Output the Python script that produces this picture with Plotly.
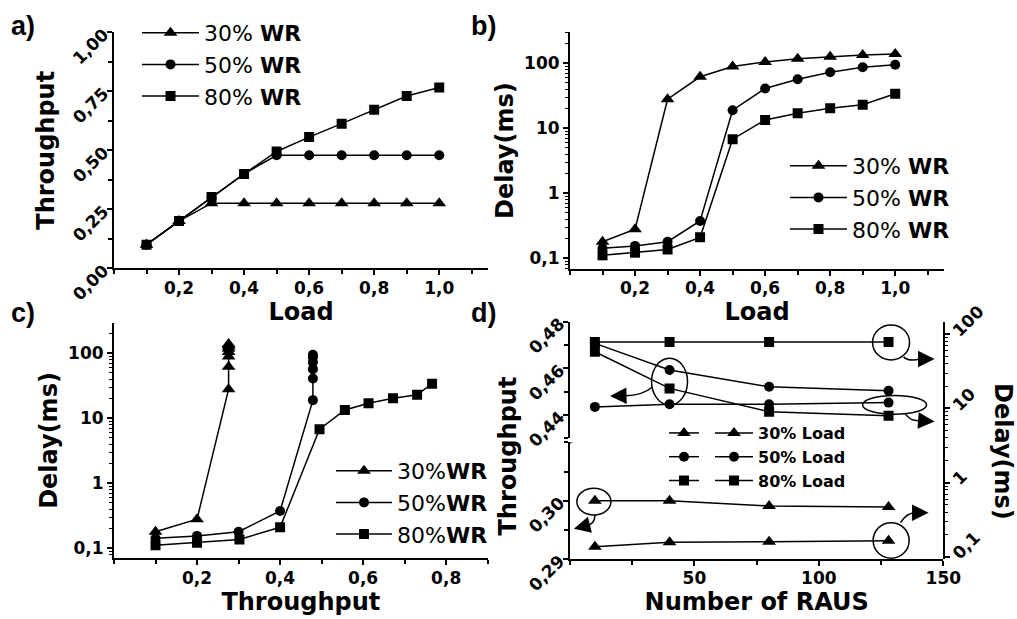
import math
import plotly.graph_objects as go

# ---------------- data ----------------
load = [0.1, 0.2, 0.3, 0.4, 0.5, 0.6, 0.7, 0.8, 0.9, 1.0]
thr_30 = [0.100, 0.200, 0.276, 0.276, 0.276, 0.276, 0.276, 0.276, 0.276, 0.276]
thr_50 = [0.100, 0.200, 0.300, 0.400, 0.479, 0.479, 0.479, 0.479, 0.479, 0.479]
thr_80 = [0.100, 0.200, 0.302, 0.400, 0.495, 0.556, 0.613, 0.672, 0.730, 0.766]
dly_30 = [0.18, 0.28, 28, 62, 89, 105, 117, 126, 134, 139]
dly_50 = [0.143, 0.155, 0.18, 0.375, 19, 41, 57, 73, 87, 95]
dly_80 = [0.111, 0.122, 0.137, 0.21, 6.8, 13.4, 17, 20.3, 23, 34]

raus = [10, 40, 80, 128]
thr_d_30 = [0.3000, 0.3000, 0.2991, 0.2989]
thr_d_50 = [0.4707, 0.4593, 0.4521, 0.4504]
thr_d_80 = [0.4671, 0.4514, 0.4414, 0.4397]
dly_d_30 = [0.137, 0.157, 0.160, 0.165]
dly_d_50 = [10.5, 11.4, 11.4, 12.0]
dly_d_80 = [79, 79, 79, 79]

wr_names = ["30%", "50%", "80%"]
load_names = ["30% Load", "50% Load", "80% Load"]
log_tickvals = [0.1, 1, 10, 100]
log_ticktext = ["0,1", "1", "10", "100"]

# ---------------- helpers ----------------
W, H = 1017, 619
def px(x):
    return x / W
def py(y):
    return 1 - y / H

FONT = "DejaVu Sans"
LFONT = "Liberation Sans"
symbols = ["triangle-up", "circle", "square"]
msz = {"triangle-up": 12, "circle": 10, "square": 10}
LINE = dict(color="black", width=1.5)

fig = go.Figure()

def add(x, y, sym, name, xa, ya, leg, showlegend=True):
    fig.add_trace(go.Scatter(
        x=x, y=y, mode="lines+markers", name=name,
        line=LINE,
        marker=dict(symbol=sym, size=msz[sym], color="black"),
        xaxis=xa, yaxis=ya, legend=leg, showlegend=showlegend,
        hoverinfo="x+y"))

thr = [thr_30, thr_50, thr_80]
dly = [dly_30, dly_50, dly_80]

# a) throughput vs load
for i in range(3):
    add(load, thr[i], symbols[i], wr_names[i] + " <b>WR</b>", "x", "y", "legend")
# b) delay vs load
for i in range(3):
    add(load, dly[i], symbols[i], wr_names[i] + " <b>WR</b>", "x2", "y2", "legend2")
# c) delay vs throughput
for i in range(3):
    add(thr[i], dly[i], symbols[i], wr_names[i] + "<b>WR</b>", "x3", "y3", "legend3")
# d) vs number of RAUs
add(raus, thr_d_30, symbols[0], " ", "x4", "y5", "legend4")
add(raus, thr_d_50, symbols[1], " ", "x4", "y4", "legend4")
add(raus, thr_d_80, symbols[2], " ", "x4", "y4", "legend4")
dly_d = [dly_d_30, dly_d_50, dly_d_80]
for i in range(3):
    add(raus, dly_d[i], symbols[i], "<b>" + load_names[i] + "</b>", "x4", "y6", "legend5")

# ---------------- axes ----------------
TICKFONT = dict(family=FONT, size=17, color="black", weight="bold")
TITLEFONT = dict(family=FONT, size=24, color="black", weight="bold")

def axis(**kw):
    base = dict(showline=True, linecolor="black", linewidth=2, ticks="outside",
                ticklen=5, tickwidth=2, tickcolor="black", showgrid=False,
                zeroline=False, tickfont=TICKFONT, mirror=False, automargin=False)
    base.update(kw)
    return base

minor_lin = lambda d: dict(dtick=d, ticks="outside", ticklen=4, tickwidth=1.5,
                           tickcolor="black", showgrid=False)
minor_log = dict(dtick="D1", ticks="outside", ticklen=3, tickwidth=1.2,
                 tickcolor="black", showgrid=False)

Y6R = [-1.03, 2.17]

fig.update_layout(
    template="none",
    xaxis=axis(domain=[px(114), px(488)], range=[0, 1.15], anchor="y",
               tickvals=[0.2, 0.4, 0.6, 0.8, 1.0], tickformat=".1f",
               minor=minor_lin(0.1), ticklabelstandoff=-2,
               title=dict(text="Load", font=TITLEFONT, standoff=0)),
    yaxis=axis(domain=[py(268.3), py(32.3)], range=[0, 1.0], anchor="x",
               tickvals=[0, 0.25, 0.5, 0.75, 1.0], tickformat=".2f", tickangle=-45,
               minor=minor_lin(0.125),
               title=dict(text="Throughput", font=TITLEFONT, standoff=7)),
    xaxis2=axis(domain=[px(570), px(944)], range=[0, 1.15], anchor="y2",
                tickvals=[0.2, 0.4, 0.6, 0.8, 1.0], tickformat=".1f",
                minor=minor_lin(0.1), ticklabelstandoff=-2,
                title=dict(text="Load", font=TITLEFONT, standoff=0)),
    yaxis2=axis(domain=[py(269), py(32.3)], type="log", range=[-1.165, 2.477],
                anchor="x2", tickvals=log_tickvals, ticktext=log_ticktext,
                minor=minor_log,
                title=dict(text="Delay(ms)", font=TITLEFONT, standoff=4)),
    xaxis3=axis(domain=[px(114), px(487.7)], range=[0, 0.9], anchor="y3",
                tickvals=[0.2, 0.4, 0.6, 0.8], tickformat=".1f",
                minor=minor_lin(0.1), ticklabelstandoff=-2,
                title=dict(text="Throughput", font=TITLEFONT, standoff=0)),
    yaxis3=axis(domain=[py(558.3), py(322.7)], type="log", range=[-1.154, 2.47],
                anchor="x3", tickvals=log_tickvals, ticktext=log_ticktext,
                minor=minor_log,
                title=dict(text="Delay(ms)", font=TITLEFONT, standoff=4)),
    xaxis4=axis(domain=[px(570), px(943.3)], range=[0, 150], anchor="y5",
                tickvals=[50, 100, 150], minor=minor_lin(25), ticklabelstandoff=-2,
                title=dict(text="Number of RAUS", font=TITLEFONT, standoff=0)),
    yaxis4=axis(domain=[py(438.3), py(321.7)], range=[0.43, 0.48], anchor="x4",
                tickvals=[0.44, 0.46, 0.48], tickformat=".2f", tickangle=-45,
                minor=minor_lin(0.01)),
    yaxis5=axis(domain=[py(559), py(442.4)], range=[0.29, 0.31], anchor="x4",
                tickvals=[0.29, 0.30], tickformat=".2f", tickangle=-45,
                minor=minor_lin(0.005)),
    yaxis6=axis(domain=[py(559), py(321.7)], type="log", range=Y6R,
                anchor="x4", side="right", tickvals=log_tickvals,
                ticktext=log_ticktext, tickangle=-45, minor=minor_log),
)

# ---------------- legends ----------------
def leg(x, y, size, iw=30):
    return dict(x=px(x), y=py(y), xanchor="left", yanchor="top",
                bgcolor="rgba(0,0,0,0)", borderwidth=0, tracegroupgap=0,
                font=dict(family=FONT, size=size, color="black"),
                itemwidth=iw, itemsizing="trace")

fig.update_layout(
    legend=leg(137, 12, 22, 57),
    legend2=leg(785, 145, 22, 57),
    legend3=leg(331, 450, 22, 56),
    legend4=leg(664, 416, 16),
    legend5=leg(710, 416, 16, 38),
)

# ---------------- annotations ----------------
ann = []
for txt, x, y in [("a)", 23, 26), ("b)", 483, 26), ("c)", 23, 313), ("d)", 483, 313)]:
    ann.append(dict(text="<b>" + txt + "</b>", x=px(x), y=py(y), xref="paper",
                    yref="paper", showarrow=False, xanchor="center", yanchor="middle",
                    font=dict(family=LFONT, size=27, color="black")))
ann.append(dict(text="<b>Throughput</b>", x=px(507.5), y=py(456), xref="paper",
                yref="paper", showarrow=False, textangle=-90,
                xanchor="center", yanchor="middle",
                font=dict(family=FONT, size=24, color="black")))
ann.append(dict(text="<b>Delay(ms)</b>", x=px(1003), y=py(451), xref="paper",
                yref="paper", showarrow=False, textangle=90,
                xanchor="center", yanchor="middle",
                font=dict(family=FONT, size=24, color="black")))

shapes = []

def yanchor_of(yval, yref, log):
    if log:  # anchor on the axis domain (linear fraction) for log axis
        return yref + " domain", (math.log10(yval) - Y6R[0]) / (Y6R[1] - Y6R[0])
    return yref, yval

def mark(xval, yval, yref, log, circ, curve, tip):
    """circ = (x0, x1, ytop, ybot) screen px offsets; curve = [(sx,sy),(cx,cy),(ex,ey)];
    tip=(tx,ty) screen offsets (y down positive)."""
    sref, sanchor = yanchor_of(yval, yref, log)
    x0, x1, yt, yb = circ
    shapes.append(dict(type="circle", xref="x4", yref=sref, xsizemode="pixel",
                       ysizemode="pixel", xanchor=xval, yanchor=sanchor,
                       x0=x0, x1=x1, y0=-yb, y1=-yt,
                       line=dict(color="black", width=1.5)))
    (sx, sy), (cx, cy), (ex, ey) = curve
    shapes.append(dict(type="path", xref="x4", yref=sref, xsizemode="pixel",
                       ysizemode="pixel", xanchor=xval, yanchor=sanchor,
                       path=f"M{sx},{-sy} Q{cx},{-cy} {ex},{-ey}",
                       line=dict(color="black", width=1.5)))
    tx, ty = tip
    ann.append(dict(text="", x=xval, y=math.log10(yval) if log else yval,
                    xref="x4", yref=yref, xshift=tx, yshift=-ty,
                    showarrow=True, arrowhead=2, arrowsize=2.2, arrowwidth=1.5,
                    arrowcolor="black", ax=ex - tx, ay=ey - ty, standoff=0))

# delay 80% load at 128 RAUs -> right axis
mark(raus[3], dly_d_80[3], "y6", True, (-16, 21, -17, 18),
     [(15, 15), (20, 20), (32, 17)], (46, 17))
# delay 50% load at 128 RAUs -> right axis (ellipse)
mark(raus[3], dly_d_50[3], "y6", True, (-26, 38, -7, 11.6),
     [(17, 11.6), (22, 19), (32, 18)], (46, 19))
# throughput at 40 RAUs -> left axis
mark(raus[1], thr_d_50[1], "y4", False, (-18, 18, -11.7, 35),
     [(-17, 17), (-28, 26), (-45, 25.7)], (-59.5, 26))
# throughput 30% at 10 RAUs -> left axis
mark(raus[0], thr_d_30[0], "y5", False, (-18, 16, -12.4, 14.3),
     [(0, 14.3), (0, 24), (-9, 25)], (-21, 28))
# delay 30% at 128 RAUs -> right axis
mark(raus[3], dly_d_30[3], "y6", True, (-15.4, 20.6, -18, 17.6),
     [(12, -18), (18, -28), (27, -28)], (40, -28))

# axis break marks
for (a0, b0, a1, b1) in [(-6, 0.9, 6, -5.1), (-6, 3.3, 6, -2.4)]:
    shapes.append(dict(type="line", xref="x4", yref="y5", xsizemode="pixel",
                       ysizemode="pixel", xanchor=0, yanchor=0.31,
                       x0=a0, x1=a1, y0=-b0, y1=-b1,
                       line=dict(color="black", width=1.5)))

fig.update_layout(
    annotations=ann, shapes=shapes,
    width=W, height=H, margin=dict(l=0, r=0, t=0, b=0, autoexpand=False),
    paper_bgcolor="white", plot_bgcolor="rgba(0,0,0,0)",
    separators=",.", font=dict(family=FONT, color="black"),
    showlegend=True,
)

fig.write_html("out.html")
